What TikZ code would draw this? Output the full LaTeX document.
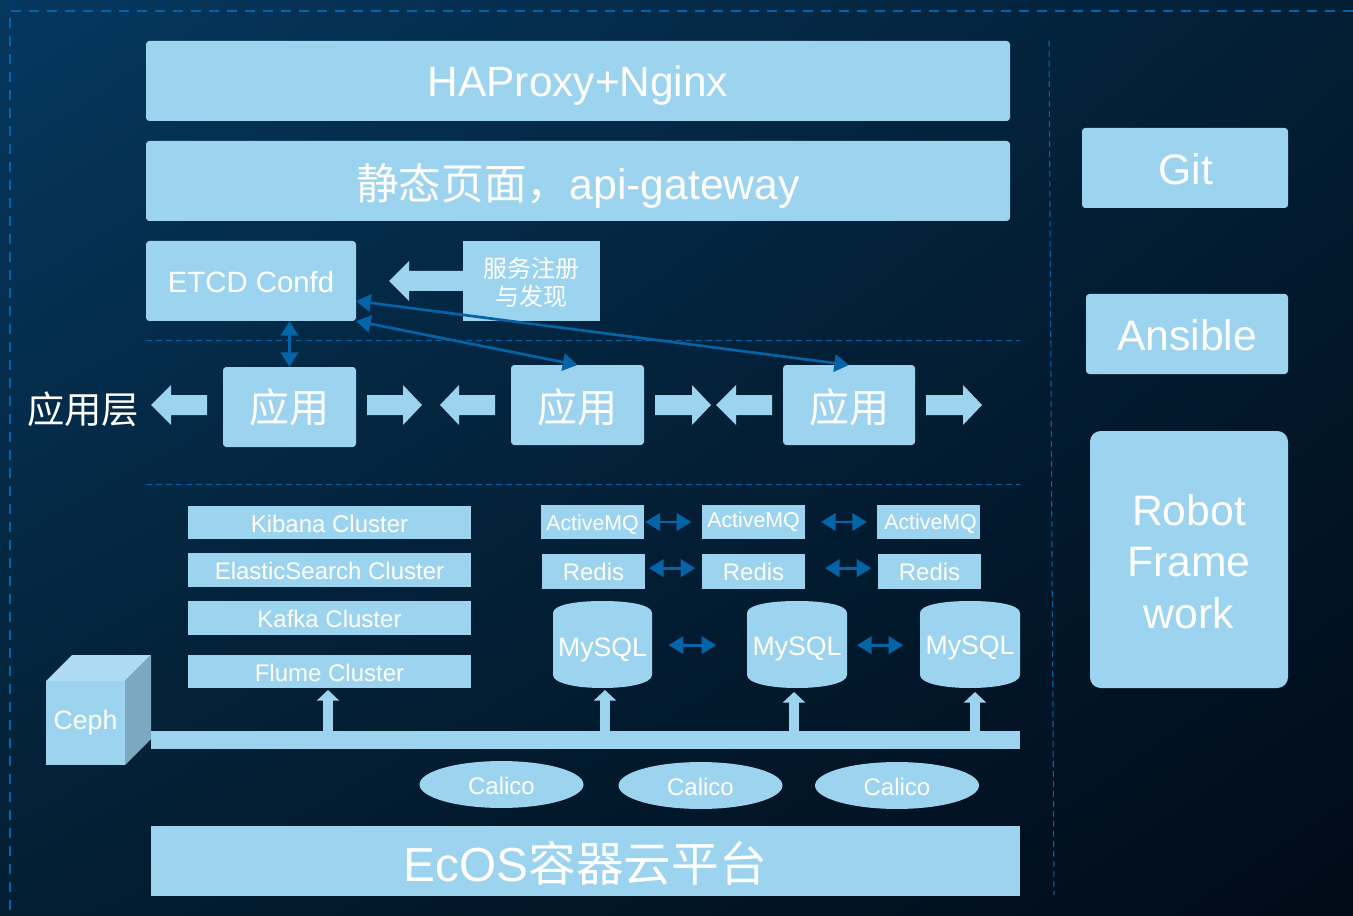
\documentclass[tikz,border=0pt]{standalone}
\usepackage{fontspec}
\setmainfont{Liberation Sans}
\newfontfamily\cjk{Noto Sans CJK SC}
\usetikzlibrary{arrows.meta,shadings}
\definecolor{boxc}{HTML}{9CD3EE}
\definecolor{linkc}{HTML}{0563A8}
\definecolor{cubetop}{HTML}{AEDBF1}
\definecolor{cubeside}{HTML}{7CA9C0}
\definecolor{bgtl}{RGB}{5,56,95}
\definecolor{bgtr}{RGB}{3,30,52}
\definecolor{bgbl}{RGB}{3,30,50}
\definecolor{bgbr}{RGB}{1,11,24}
\newcommand\fsz[1]{\fontsize{#1}{#1}\selectfont}
% move a centred text down or up inside its box
\newcommand\dn[2]{\raisebox{0pt}[\dimexpr\height+2\dimexpr#1\relax\relax][\depth]{#2}}
\newcommand\up[2]{\raisebox{0pt}[\height][\dimexpr\depth+2\dimexpr#1\relax\relax]{#2}}
% box given by its corners in pixels
\newcommand\bx[7][]{%
  \pgfmathsetmacro\cxx{(#3+#5)/2}\pgfmathsetmacro\cyy{(#4+#6)/2}%
  \pgfmathsetmacro\ww{(#5-#3)*0.75}\pgfmathsetmacro\hh{(#6-#4)*0.75}%
  \node[panel,#1,minimum width=\ww pt,minimum height=\hh pt] (#2) at (\cxx,\cyy) {#7};}
% horizontal block arrow: tip x, head back x, tail x, y
\newcommand\blk[4]{\fill[boxc] (#1,#4)--(#2,#4-20)--(#2,#4-10)--(#3,#4-10)--(#3,#4+10)--(#2,#4+10)--(#2,#4+20)--cycle;}
% cylinder: name, x1, y1, x2, y2, text
\newcommand\cyl[6]{%
  \pgfmathsetmacro\cxx{(#2+#4)/2}\pgfmathsetmacro\cyy{(#3+#5)/2}%
  \fill[boxc] (#2,#3+12) .. controls (#2,#3+4) and (#2+22,#3) .. (\cxx,#3) .. controls (#4-22,#3) and (#4,#3+4) .. (#4,#3+12)
    -- (#4,#5-13) .. controls (#4,#5-5) and (#4-22,#5) .. (\cxx,#5) .. controls (#2+22,#5) and (#2,#5-5) .. (#2,#5-13) -- cycle;
  \pgfmathsetmacro\ww{(#4-#2)*0.75}\pgfmathsetmacro\hh{(#5-#3)*0.75}%
  \node[label text,font=\fsz{20},minimum width=\ww pt,minimum height=\hh pt] (#1) at (\cxx,\cyy+2) {#6};}
\tikzset{
  panel/.style={fill=boxc,text=white,inner sep=0pt,outer sep=0pt,align=center},
  soft/.style={rounded corners=2.5pt},
  label text/.style={text=white,inner sep=0pt,outer sep=0pt,align=center},
  link/.style={draw=linkc,line width=2pt,{Triangle[length=11pt,width=13pt]}-{Triangle[length=11pt,width=13pt]}},
  fat/.style={draw=boxc,line width=8pt,-{Triangle[length=8pt,width=16.5pt]}},
  outerdash/.style={draw=linkc,line width=2pt,dash pattern=on 7.5pt off 6pt},
  thindash/.style={draw=linkc,line width=0.8pt,dash pattern=on 4.5pt off 3pt},
}
\begin{document}
\begin{tikzpicture}[x=0.75pt,y=-0.75pt]
\useasboundingbox (0,0) rectangle (1353,916);
\shade[shading=bilinear interpolation,
       upper left=bgtl,upper right=bgtr,lower left=bgbl,lower right=bgbr] (0,0) rectangle (1353,916);

% frame and separators
\coordinate (ftl) at (10,11);
\coordinate (ftr) at (1353,11);
\coordinate (fbl) at (10,910);
\draw[outerdash] (ftr) -- (ftl) -- (fbl);
\coordinate (sep1) at (1049,41);
\coordinate (sep2) at (1054,895);
\draw[thindash] (sep1) -- (sep2);
\coordinate (ha) at (146,340.5);
\coordinate (hb) at (1020,340.5);
\coordinate (hc) at (146,484.5);
\coordinate (hd) at (1020,484.5);
\draw[thindash] (ha) -- (hb);
\draw[thindash] (hc) -- (hd);

% top tier
\bx[soft,font=\fsz{31.8}]{hap}{146}{41}{1010}{121}{\dn{3.5pt}{HAProxy+Nginx}}
\bx[soft,font=\fsz{32}]{gw}{146}{141}{1010}{221}{\dn{3.5pt}{{\cjk 静态页面，}api-gateway}}
\bx[soft,font=\fsz{22}]{etcd}{146}{241}{356}{321}{\dn{0.75pt}{ETCD Confd}}
\blk{389}{409}{464}{281}
\bx[font=\fsz{18}]{svc}{463}{241}{600}{321}{\rule{0pt}{17pt}\cjk 服务注册\\[3pt]\cjk 与发现}

% application tier
\node[label text,font=\fsz{28}\cjk] (layer) at (83,409) {应用层};
\bx[soft,font=\fsz{30}\cjk]{app1}{223}{367}{356}{447}{应用}
\bx[soft,font=\fsz{30}\cjk]{app2}{511}{365}{644}{445}{\dn{1.5pt}{应用}}
\bx[soft,font=\fsz{30}\cjk]{app3}{783}{365}{915}{445}{\dn{1.5pt}{应用}}
\blk{151}{171}{207}{405}
\blk{422}{403}{367}{405}
\blk{440}{459}{495}{405}
\blk{711}{692}{655}{405}
\blk{716}{736}{772}{405}
\blk{982}{963}{926}{405}
\draw[link] (app1.north |- etcd.south) -- (app1.north);
\draw[link] (etcd.south east) -- (app2.north);
\draw[link] ([yshift=-15pt]etcd.east) -- (app3.north);

% clusters
\bx[font=\fsz{18}]{kib}{188}{506}{471}{539}{\dn{0.75pt}{Kibana Cluster}}
\bx[font=\fsz{18}]{es}{188}{553}{471}{587}{\dn{0.75pt}{ElasticSearch Cluster}}
\bx[font=\fsz{18}]{kafka}{188}{601}{471}{635}{\dn{0.75pt}{Kafka Cluster}}
\bx[font=\fsz{18}]{flume}{188}{655}{471}{688}{\dn{0.75pt}{Flume Cluster}}

% ActiveMQ
\bx[font=\fsz{16}]{mq1}{541}{505}{644}{539}{\dn{2.25pt}{ActiveMQ}}
\bx[font=\fsz{16}]{mq2}{702}{505}{805}{539}{\up{0.5pt}{ActiveMQ}}
\bx[font=\fsz{16}]{mq3}{877}{505}{980}{539}{\dn{1.5pt}{\hspace*{3pt}ActiveMQ}}
\draw[link,shorten <=1pt,shorten >=8pt] (mq1.east) -- (mq2.west);
\draw[link,shorten <=12pt,shorten >=7.5pt] (mq2.east) -- (mq3.west);
% Redis
\bx[font=\fsz{18}]{re1}{542}{554}{645}{589}{Redis}
\bx[font=\fsz{18}]{re2}{702}{554}{805}{589}{Redis}
\bx[font=\fsz{18}]{re3}{878}{554}{981}{589}{Redis}
\draw[link,shorten <=3pt,shorten >=5pt] ([yshift=2.5pt]re1.east) -- ([yshift=2.5pt]re2.west);
\draw[link,shorten <=15pt,shorten >=5pt] ([yshift=2.5pt]re2.east) -- ([yshift=2.5pt]re3.west);
% MySQL
\cyl{my1}{553}{601}{652}{688}{\dn{2.25pt}{MySQL}}
\cyl{my2}{747}{601}{847}{688}{\dn{1.5pt}{MySQL}}
\cyl{my3}{920}{601}{1020}{688}{\dn{0.75pt}{MySQL}}
\draw[link,shorten <=12.5pt,shorten >=23pt] ([yshift=1pt]my1.east) -- ([yshift=1pt]my2.west);
\draw[link,shorten <=7.5pt,shorten >=12.5pt] ([yshift=1pt]my2.east) -- ([yshift=1pt]my3.west);

% Ceph cube
\fill[cubetop] (46,681) -- (72,655) -- (151,655) -- (125,681) -- cycle;
\fill[cubeside] (125,681) -- (151,655) -- (151,739) -- (125,765) -- cycle;
\bx[font=\fsz{20}]{ceph}{46}{681}{125}{765}{Ceph}

% bus and uplinks
\bx[]{bus}{151}{731}{1020}{749}{}
\coordinate (u1) at (328,690);
\coordinate (u2) at (605,690);
\coordinate (u3) at (794,692);
\coordinate (u4) at (975,692);
\draw[fat] (u1 |- bus.north) -- (u1);
\draw[fat] (u2 |- bus.north) -- (u2);
\draw[fat] (u3 |- bus.north) -- (u3);
\draw[fat] (u4 |- bus.north) -- (u4);

% Calico
\foreach \nm/\cx/\cy in {cal1/501.5/784.5,cal2/700.5/785.5,cal3/897/785.5}{
  \fill[boxc] (\cx,\cy) ellipse [x radius=61.5pt,y radius=17.6pt];
  \node[label text,font=\fsz{18}] (\nm) at (\cx,\cy+1) {Calico};
}

% platform
\bx[font=\fsz{35.8}]{ecos}{151}{826}{1020}{896}{\dn{1.5pt}{EcOS{\cjk 容器云平台}}}

% tools
\bx[soft,font=\fsz{32}]{git}{1082}{128}{1288}{208}{\dn{0.75pt}{\hspace*{1.5pt}Git}}
\bx[soft,font=\fsz{32}]{ans}{1086}{294}{1288}{374}{\dn{0.75pt}{Ansible}}
\bx[rounded corners=8pt,font=\fsz{32}]{rob}{1090}{431}{1288}{688}{\rule{0pt}{26.4pt}Robot\\[6.6pt]Frame\\[6.6pt]work}
\end{tikzpicture}
\end{document}
